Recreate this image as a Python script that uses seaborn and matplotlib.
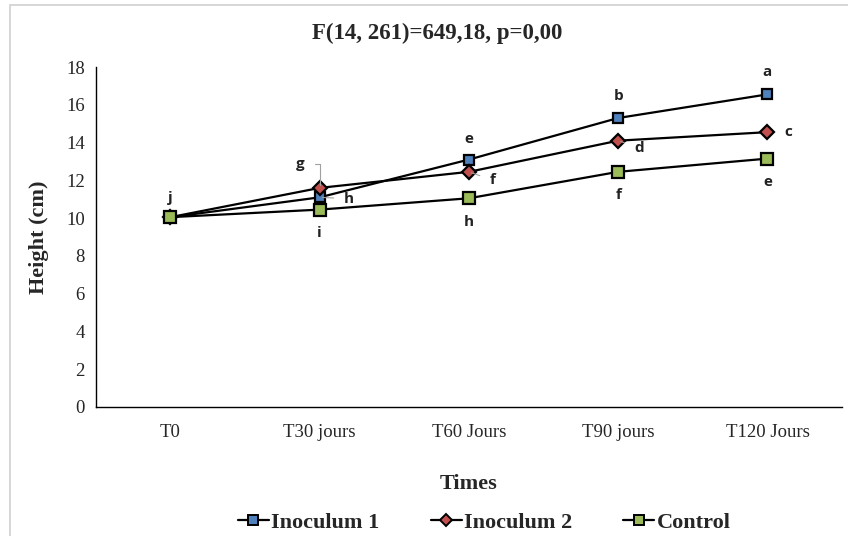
import pandas as pd
import matplotlib.pyplot as plt
import seaborn as sns
from matplotlib.lines import Line2D
from matplotlib.patches import Rectangle

times = ["T0", "T30 jours", "T60 Jours", "T90 jours", "T120 Jours"]
inoc1 = [10.05, 11.1, 13.1, 15.3, 16.55]
inoc2 = [10.05, 11.6, 12.45, 14.1, 14.55]
control = [10.05, 10.45, 11.05, 12.45, 13.15]
letters1 = ["", "h", "e", "b", "a"]
letters2 = ["", "g", "f", "d", "c"]
letters3 = ["j", "i", "h", "f", "e"]

series = {"Inoculum 1": inoc1, "Inoculum 2": inoc2, "Control": control}
rows = []
for name, vals in series.items():
    for t, v in zip(times, vals):
        rows.append({"Times": t, "Height": v, "Group": name})
df = pd.DataFrame(rows)

sns.set_style("white")
plt.rcParams["font.family"] = ["Liberation Serif", "DejaVu Serif"]

fig = plt.figure(figsize=(8.48, 5.36), dpi=100)
ax = fig.add_axes([0.113, 0.2407, 0.880, 0.6343])
fig.patches.append(Rectangle((0.012, -0.01), 1.0, 1.0, transform=fig.transFigure,
                             fill=False, edgecolor="#d0d0d0", lw=1.2))

colors = {"Inoculum 1": "#4F81BD", "Inoculum 2": "#C0504D", "Control": "#9BBB59"}
markers = {"Inoculum 1": "s", "Inoculum 2": "D", "Control": "s"}
sizes = {"Inoculum 1": 7.5, "Inoculum 2": 7, "Control": 8.5}
for name in ["Inoculum 1", "Inoculum 2", "Control"]:
    sub = df[df.Group == name]
    sns.lineplot(data=sub, x="Times", y="Height", ax=ax, color="black", lw=1.6,
                 marker=markers[name], markersize=sizes[name],
                 markerfacecolor=colors[name], markeredgecolor="black",
                 markeredgewidth=1.6, sort=False)

ax.set_xlim(-0.5, 4.5)
ax.set_ylim(0, 18)
ax.set_yticks(range(0, 19, 2))
ax.set_xticks(range(5))
ax.set_xticklabels(times)
ax.set_xticks([i - 0.5 for i in range(6)], minor=True)
ax.tick_params(axis="x", which="major", length=0, pad=12, labelsize=13.5)
ax.tick_params(axis="x", which="minor", length=5, width=1, color="black", direction="out")
ax.tick_params(axis="y", length=5, width=1, color="black", direction="out", labelsize=13.5, pad=3)
for s in ["top", "right"]:
    ax.spines[s].set_visible(False)
for s in ["left", "bottom"]:
    ax.spines[s].set_color("black")
    ax.spines[s].set_linewidth(1)

ax.set_xlabel("Times", fontsize=16, fontweight="bold", labelpad=24)
ax.set_ylabel("Height (cm)", fontsize=16, fontweight="bold", labelpad=12)
fig.text(0.515, 0.938, "F(14, 261)=649,18, p=0,00", fontsize=16.5, fontweight="bold",
         ha="center", va="center")

lf = dict(fontsize=11, fontweight="bold", family=["Open Sans", "DejaVu Sans"],
          ha="center", va="center", color="#222222")
off1 = [None, (21, -1), (0, 15), (0, 16), (0, 16)]
off2 = [None, (-14, 17), (17, -6), (15, -5), (15, 0)]
off3 = [(0, 14), (0, -17), (0, -17), (0, -17), (0, -17)]
for vals, labs, offs in [(inoc1, letters1, off1), (inoc2, letters2, off2), (control, letters3, off3)]:
    for i, (v, lab, o) in enumerate(zip(vals, labs, offs)):
        if not lab:
            continue
        lead = o[0] != 0 and lab != "c"
        ax.annotate(lab, (i, v), xytext=o, textcoords="offset points",
                    arrowprops=dict(arrowstyle="-", color="#a0a0a0", lw=0.8,
                                    shrinkA=5, shrinkB=2,
                                    connectionstyle="angle,angleA=0,angleB=90" if lab == "g" else "arc3")
                    if lead else None, **lf)

handles = [Line2D([], [], color="black", lw=1.6, marker=markers[n], markersize=sizes[n] - 1,
                  markerfacecolor=colors[n], markeredgecolor="black", markeredgewidth=1.4)
           for n in series]
fig.legend(handles, list(series), loc="center", bbox_to_anchor=(0.571, 0.025), ncol=3,
           frameon=False, handlelength=1.4, handletextpad=0.1, columnspacing=2.3,
           prop=dict(family="Liberation Serif", weight="bold", size=16))

fig.savefig("out.png", dpi=100)
